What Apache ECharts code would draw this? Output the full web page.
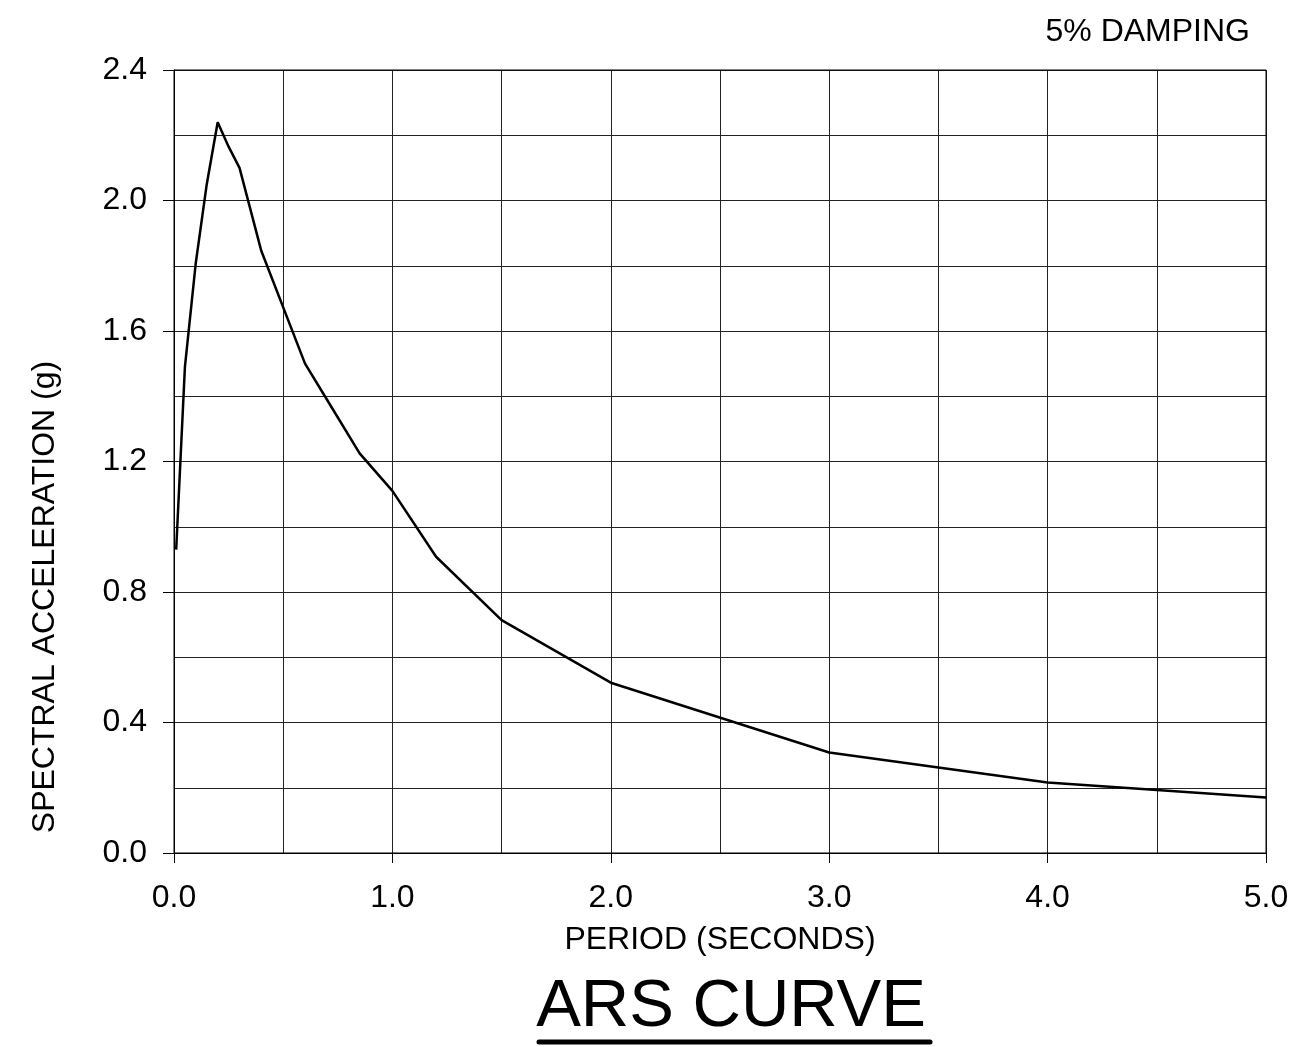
<!DOCTYPE html>
<html>
<head>
<meta charset="utf-8">
<script src="https://cdn.jsdelivr.net/npm/echarts@6/dist/echarts.min.js"></script>
<style>
html,body{margin:0;padding:0;background:#fff;}
#chart{width:1294px;height:1047px;}
</style>
</head>
<body>
<div id="chart"></div>
<script>
var periods = [0.01, 0.05, 0.1, 0.15, 0.2, 0.25, 0.3, 0.4, 0.6, 0.7, 0.85, 1.0, 1.2, 1.5, 2.0, 3.0, 4.0, 5.0];
var accel   = [0.93, 1.49, 1.81, 2.05, 2.24, 2.165, 2.10, 1.845, 1.50, 1.39, 1.225, 1.11, 0.908, 0.714, 0.522, 0.308, 0.216, 0.17];
var xTickLabels = [0, 1, 2, 3, 4, 5];
var yTickLabels = [0, 0.4, 0.8, 1.2, 1.6, 2.0, 2.4];

var FONT = '"Liberation Sans", Arial, sans-serif';
var chart = echarts.init(document.getElementById('chart'));
var pts = periods.map(function (p, i) { return [p, accel[i]]; });
var gridLine = { show: true, lineStyle: { color: '#222', width: 1 } };

chart.setOption({
  animation: false,
  backgroundColor: '#ffffff',
  grid: { left: 174, right: 28, top: 70, bottom: 194, containLabel: false },
  xAxis: [{
    type: 'value', min: 0, max: 5, interval: 1,
    name: 'PERIOD (SECONDS)', nameLocation: 'middle', nameGap: 71,
    nameTextStyle: { color: '#000', fontFamily: FONT, fontSize: 32 },
    axisLine: { show: true, onZero: false, lineStyle: { color: '#000', width: 1 } },
    axisTick: { show: true, length: 10, inside: false, lineStyle: { color: '#000', width: 1 } },
    axisLabel: { show: true, margin: 29, color: '#000', fontFamily: FONT, fontSize: 32,
      hideOverlap: false, showMinLabel: true, showMaxLabel: true,
      formatter: function (v) { return Number(v).toFixed(1); } },
    splitLine: gridLine,
    minorTick: { show: false, splitNumber: 2 },
    minorSplitLine: gridLine
  }],
  yAxis: [{
    type: 'value', min: 0, max: 2.4, interval: 0.4,
    axisLine: { show: true, onZero: false, lineStyle: { color: '#000', width: 1 } },
    axisTick: { show: true, length: 11, inside: false, lineStyle: { color: '#000', width: 1 } },
    axisLabel: { show: true, margin: 27, color: '#000', fontFamily: FONT, fontSize: 32,
      hideOverlap: false, showMinLabel: true, showMaxLabel: true,
      formatter: function (v) { return Number(v).toFixed(1); } },
    splitLine: gridLine,
    minorTick: { show: false, splitNumber: 2 },
    minorSplitLine: gridLine
  }],
  graphic: [
    { type: 'rect', shape: { x: 174, y: 70, width: 1092, height: 783 }, style: { fill: 'none', stroke: '#000', lineWidth: 1 }, silent: true, z: 1 },
    { type: 'text', x: 1250, y: 32, style: { text: '5% DAMPING', fill: '#000', font: '32px "Liberation Sans", Arial, sans-serif', textAlign: 'right', textVerticalAlign: 'middle' } },
    { type: 'text', x: 45, y: 597, rotation: Math.PI / 2, style: { text: 'SPECTRAL ACCELERATION (g)', fill: '#000', font: '32px "Liberation Sans", Arial, sans-serif', textAlign: 'center', textVerticalAlign: 'middle' } },
    { type: 'text', x: 731, y: 1008, style: { text: 'ARS CURVE', fill: '#000', font: '67px "Liberation Sans", Arial, sans-serif', textAlign: 'center', textVerticalAlign: 'middle' } },
    { type: 'line', shape: { x1: 539, y1: 1042, x2: 930, y2: 1042 }, style: { stroke: '#000', lineWidth: 5, lineCap: 'round' } }
  ],
  series: [{
    type: 'line', data: pts, symbol: 'none', smooth: false,
    lineStyle: { color: '#000', width: 2.5 }, z: 5
  }]
});
</script>
</body>
</html>
